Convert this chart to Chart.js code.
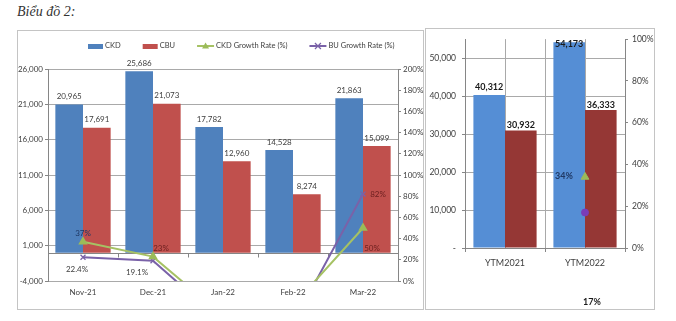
<!doctype html>
<html lang="vi">
<head>
<meta charset="utf-8">
<title>Biểu đồ 2</title>
<script src="https://cdn.jsdelivr.net/npm/chart.js@4.4.1/dist/chart.umd.min.js"></script>
<style>
  * { box-sizing: border-box; }
  html, body { margin: 0; padding: 0; background: #fff; }
  body { width: 676px; height: 321px; position: relative; overflow: hidden; font-family: Lato, sans-serif; }
  .title {
    position: absolute; left: 17px; top: 4px;
    font-family: 'Liberation Serif', 'DejaVu Serif', serif;
    font-style: italic; font-weight: normal; font-size: 14px; color: #333;
  }
  .frame { position: absolute; border: 1px solid #c4c4c4; pointer-events: none; }
  canvas { position: absolute; display: block; }
</style>
</head>
<body>
<div class="title">Biểu đồ 2:</div>
<canvas id="monthly" width="406" height="279" style="left:17px; top:30px;"></canvas>
<canvas id="ytm" width="229" height="281" style="left:425px; top:28px;"></canvas>
<div class="frame" style="left:17px; top:30px; width:407px; height:280px;"></div>
<div class="frame" style="left:425px; top:28px; width:230px; height:282px;"></div>
<script>
// monthly chart data
const months = ['Nov-21', 'Dec-21', 'Jan-22', 'Feb-22', 'Mar-22'];
const ckdUnits = [20965, 25686, 17782, 14528, 21863];
const cbuUnits = [17691, 21073, 12960, 8274, 15099];
const ckdGrowth = [37, 23, -33, -23, 50];
const buGrowth = [22.4, 19.1, -39, -40, 82];

// year-to-month chart data
const ytmLabels = ['YTM2021', 'YTM2022'];
const ytmCkd = [40312, 54173];
const ytmCbu = [30932, 36333];
const ytmCkdGrowth = [null, 34];
const ytmBuGrowth = [null, 17];
const ytmUnitTicks = [0, 10000, 20000, 30000, 40000, 50000];

const AXIS = '#868686';
const GRID = '#a9a9a9';
const TEXT = '#404040';

const fmtNum = function (v) { return v.toLocaleString('en-US'); };
const fmtPct = function (v) { return (Number.isInteger(v) ? v : v.toFixed(1)) + '%'; };

// draws data labels next to bars and points
const valueLabels = {
  id: 'valueLabels',
  afterDatasetsDraw(chart) {
    const ctx = chart.ctx;
    const area = chart.chartArea;
    chart.data.datasets.forEach(function (ds, i) {
      if (!ds.labelFormat) return;
      const meta = chart.getDatasetMeta(i);
      meta.data.forEach(function (el, j) {
        const v = ds.data[j];
        if (v == null) return;
        if (el.y > area.bottom + 1 || el.y < area.top - 1) return;
        const off = (ds.labelOffsets && ds.labelOffsets[j]) || [0, ds.labelDy || -8];
        let y = el.y + off[1];
        if (ds.labelClampTop) y = Math.max(y, area.top + 5);
        ctx.save();
        ctx.font = ds.labelFont || '8px Lato';
        ctx.fillStyle = (ds.labelColors && ds.labelColors[j]) || ds.labelColor || TEXT;
        ctx.textAlign = 'center';
        ctx.textBaseline = 'middle';
        ctx.fillText(ds.labelFormat(v), el.x + off[0], y);
        ctx.restore();
      });
    });
  }
};

// Excel style category axis line at zero
const zeroLine = {
  id: 'zeroLine',
  beforeDatasetsDraw(chart) {
    const ctx = chart.ctx;
    const area = chart.chartArea;
    const y = Math.round(chart.scales.y.getPixelForValue(0)) + 0.5;
    ctx.save();
    ctx.strokeStyle = AXIS;
    ctx.lineWidth = 1;
    ctx.beginPath();
    ctx.moveTo(area.left, y);
    ctx.lineTo(area.right, y);
    for (let i = 0; i <= months.length; i++) {
      const px = Math.round(area.left + (area.right - area.left) * i / months.length) + 0.5;
      ctx.moveTo(px, y);
      ctx.lineTo(px, y + 4);
    }
    ctx.stroke();
    ctx.restore();
  }
};

// custom legend row for the monthly chart
const legendRow = {
  id: 'legendRow',
  afterDraw(chart) {
    const ctx = chart.ctx;
    const y = 16;
    let x = 71;
    ctx.save();
    ctx.font = '7.5px Lato';
    ctx.textBaseline = 'middle';
    chart.data.datasets.forEach(function (ds) {
      if (ds.type === 'bar') {
        ctx.fillStyle = ds.backgroundColor;
        ctx.fillRect(x, y - 2, 15, 5);
        x += 17;
      } else {
        ctx.strokeStyle = ds.borderColor;
        ctx.lineWidth = 2;
        ctx.beginPath();
        ctx.moveTo(x, y);
        ctx.lineTo(x + 17, y);
        ctx.stroke();
        const cx = x + 8.5;
        if (ds.pointStyle === 'triangle') {
          ctx.fillStyle = ds.pointBackgroundColor;
          ctx.beginPath();
          ctx.moveTo(cx, y - 3.5);
          ctx.lineTo(cx + 3.5, y + 2.5);
          ctx.lineTo(cx - 3.5, y + 2.5);
          ctx.closePath();
          ctx.fill();
        } else {
          ctx.lineWidth = 1.2;
          ctx.beginPath();
          ctx.moveTo(cx - 3, y - 3); ctx.lineTo(cx + 3, y + 3);
          ctx.moveTo(cx + 3, y - 3); ctx.lineTo(cx - 3, y + 3);
          ctx.stroke();
        }
        x += 19;
      }
      ctx.fillStyle = TEXT;
      ctx.fillText(ds.label, x, y);
      x += ctx.measureText(ds.label).width + 22;
    });
    ctx.restore();
  }
};

// vertical lines through the middle of each YTM category
const centerLines = {
  id: 'centerLines',
  beforeDatasetsDraw(chart) {
    const ctx = chart.ctx;
    const area = chart.chartArea;
    ctx.save();
    ctx.strokeStyle = GRID;
    ctx.lineWidth = 1;
    ctx.beginPath();
    ytmLabels.forEach(function (l, i) {
      const px = Math.round(chart.scales.x.getPixelForValue(i)) + 0.5;
      ctx.moveTo(px, area.top);
      ctx.lineTo(px, area.bottom);
    });
    ctx.stroke();
    ctx.restore();
  }
};

new Chart(document.getElementById('monthly'), {
  data: {
    labels: months,
    datasets: [
      { type: 'bar', label: 'CKD', data: ckdUnits, backgroundColor: '#4F81BD', order: 1,
        categoryPercentage: 0.79, barPercentage: 1, labelFormat: fmtNum },
      { type: 'bar', label: 'CBU', data: cbuUnits, backgroundColor: '#C0504D', order: 1,
        categoryPercentage: 0.79, barPercentage: 1, labelFormat: fmtNum },
      { type: 'line', label: 'CKD Growth Rate (%)', data: ckdGrowth, yAxisID: 'y1', order: 0,
        borderColor: '#A6C264', borderWidth: 2, pointStyle: 'triangle', pointRadius: 3.5,
        pointBackgroundColor: '#9BBB59', pointBorderColor: '#9BBB59', clip: 0,
        labelFormat: fmtPct, labelOffsets: [[0, -8], [8, -8], null, null, [9, 20]],
        labelColors: ['#1F3864', '#6B1F1F', null, null, '#6B1F1F'] },
      { type: 'line', label: 'BU Growth Rate (%)', data: buGrowth, yAxisID: 'y1', order: 0,
        borderColor: '#7A62A8', borderWidth: 2, pointStyle: 'crossRot', pointRadius: 3.5,
        pointBorderColor: '#7A62A8', pointBorderWidth: 1.3, clip: 0,
        labelFormat: fmtPct, labelOffsets: [[-6, 12], [-16, 12], null, null, [15, 0]],
        labelColors: [TEXT, TEXT, null, null, '#6B1F1F'] }
    ]
  },
  options: {
    responsive: false,
    animation: false,
    events: [],
    layout: { padding: { top: 39, left: 0, right: 0, bottom: 0 } },
    plugins: { legend: { display: false }, tooltip: { enabled: false } },
    scales: {
      x: {
        type: 'category',
        offset: true,
        grid: { display: false, drawTicks: false },
        border: { display: false },
        ticks: { font: { family: 'Lato', size: 8 }, color: TEXT, padding: 7, maxRotation: 0 },
        afterFit: function (s) { s.height = 28; }
      },
      y: {
        position: 'left',
        min: -4000,
        max: 26000,
        ticks: { stepSize: 5000, callback: fmtNum, font: { family: 'Lato', size: 8 }, color: TEXT, padding: 2 },
        grid: { color: GRID, tickColor: AXIS, tickLength: 3 },
        border: { color: AXIS },
        afterFit: function (s) { s.width = 31; }
      },
      y1: {
        position: 'right',
        min: 0,
        max: 200,
        ticks: { stepSize: 20, callback: function (v) { return v + '%'; }, font: { family: 'Lato', size: 8 }, color: TEXT, padding: 2 },
        grid: { drawOnChartArea: false, color: AXIS, tickLength: 3 },
        border: { color: AXIS },
        afterFit: function (s) { s.width = 25; }
      }
    }
  },
  plugins: [zeroLine, valueLabels, legendRow]
});

new Chart(document.getElementById('ytm'), {
  data: {
    labels: ytmLabels,
    datasets: [
      { type: 'bar', label: 'CKD', data: ytmCkd, backgroundColor: '#558ED5', order: 1,
        categoryPercentage: 0.79, barPercentage: 1, labelFormat: fmtNum, labelDy: -8,
        labelClampTop: true, labelFont: 'bold 9px Lato', labelColor: '#1a1a1a' },
      { type: 'bar', label: 'CBU', data: ytmCbu, backgroundColor: '#953735', order: 1,
        categoryPercentage: 0.79, barPercentage: 1, labelFormat: fmtNum, labelDy: -5,
        labelClampTop: true, labelFont: 'bold 9px Lato', labelColor: '#1a1a1a' },
      { type: 'line', label: 'CKD Growth Rate (%)', data: ytmCkdGrowth, yAxisID: 'y1', order: 0,
        showLine: false, pointStyle: 'triangle', pointRadius: 4.5,
        pointBackgroundColor: '#9BBB59', pointBorderColor: '#9BBB59',
        labelFormat: fmtPct, labelOffsets: [null, [-21, -1]], labelFont: 'bold 9px Lato', labelColor: '#1F3864' },
      { type: 'line', label: 'BU Growth Rate (%)', data: ytmBuGrowth, yAxisID: 'y1', order: 0,
        showLine: false, pointStyle: 'circle', pointRadius: 3.5,
        pointBackgroundColor: '#7A3DB8', pointBorderColor: '#7A3DB8',
        labelFormat: fmtPct, labelOffsets: [null, [7, 90]], labelFont: 'bold 9px Lato', labelColor: '#1a1a1a' }
    ]
  },
  options: {
    responsive: false,
    animation: false,
    events: [],
    layout: { padding: { top: 8, left: 0, right: 0, bottom: 0 } },
    plugins: { legend: { display: false }, tooltip: { enabled: false } },
    scales: {
      x: {
        type: 'category',
        offset: true,
        grid: { offset: true, color: GRID, tickColor: AXIS, tickLength: 4 },
        border: { color: AXIS },
        ticks: { font: { family: 'Lato', size: 9 }, color: TEXT, padding: 6, maxRotation: 0 },
        afterFit: function (s) { s.height = 61; }
      },
      y: {
        position: 'left',
        min: 0,
        max: 55000,
        afterBuildTicks: function (s) { s.ticks = ytmUnitTicks.map(function (v) { return { value: v }; }); },
        ticks: {
          callback: function (v) { return v === 0 ? '-' : fmtNum(v); },
          font: { family: 'Lato', size: 8.5 }, color: TEXT, padding: 6 },
        grid: { color: GRID, tickColor: AXIS, tickLength: 3 },
        border: { color: AXIS },
        afterFit: function (s) { s.width = 40; }
      },
      y1: {
        position: 'right',
        min: 0,
        max: 100,
        ticks: { stepSize: 20, callback: function (v) { return v + '%'; }, font: { family: 'Lato', size: 8.5 }, color: TEXT, padding: 4 },
        grid: { drawOnChartArea: false, color: AXIS, tickLength: 3 },
        border: { color: AXIS },
        afterFit: function (s) { s.width = 29; }
      }
    }
  },
  plugins: [centerLines, valueLabels]
});
</script>
</body>
</html>
